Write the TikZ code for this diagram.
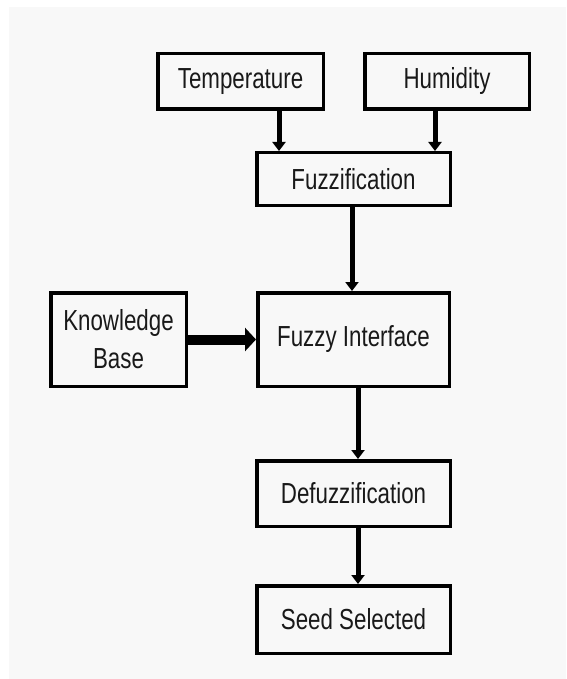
\documentclass[tikz,border=0pt]{standalone}
\usepackage{fontspec}
\setmainfont{Liberation Sans}[FakeStretch=0.77]
\usetikzlibrary{arrows.meta}
\definecolor{bggray}{HTML}{F8F8F8}

\begin{document}
\begin{tikzpicture}[x=1pt, y=-1pt]
    \useasboundingbox (0,0) rectangle (566,679);
    \fill[bggray] (9,7) rectangle (566,679);

    \tikzstyle{bnode} = [draw=black, line width = 3.5pt, rectangle, inner sep = 0pt, align=center,
      font=\fontsize{29}{38}\selectfont, text=black!90]
    \tikzstyle{varrow} = [line width = 5pt, -{Triangle[width=13pt, length=9pt]}]
    \tikzstyle{harrow} = [line width = 10pt, -{Triangle[width=23pt, length=11pt]}]

    % inputs
    \node[bnode, minimum width = 165.5pt, minimum height = 55.5pt] (temp) at (240.5, 81.5) {Temperature};
    \node[bnode, minimum width = 164.5pt, minimum height = 55.5pt] (hum) at (447, 81.5) {Humidity};

    \node[bnode, minimum width = 193.5pt, minimum height = 52.5pt] (fuzz) at (353.5, 179) {Fuzzification};

    \node[bnode, minimum width = 135.5pt, minimum height = 93.5pt] (kb) at (118.5, 339.5) {Knowledge\\Base};
    \node[bnode, minimum width = 191.5pt, minimum height = 93.5pt] (fi) at (353.5, 339.5) {Fuzzy Interface};

    \node[bnode, minimum width = 193.5pt, minimum height = 65.5pt] (defuzz) at (353.5, 493.5) {Defuzzification};
    \node[bnode, minimum width = 193.5pt, minimum height = 67.5pt] (seed) at (353.5, 619.5) {Seed Selected};

    % connections
    \draw[varrow] ([xshift=38.5pt]temp.south) to ([xshift=-74.5pt]fuzz.north);
    \draw[varrow] ([xshift=-12pt]hum.south) to ([xshift=81.5pt]fuzz.north);
    \draw[varrow] ([xshift=-1.5pt]fuzz.south) to ([xshift=-1.5pt]fi.north);
    \draw[harrow] (kb.east) to (fi.west);
    \draw[varrow] ([xshift=4.5pt]fi.south) to ([xshift=4.5pt]defuzz.north);
    \draw[varrow] ([xshift=4.5pt]defuzz.south) to ([xshift=4.5pt]seed.north);

  \end{tikzpicture}
\end{document}
